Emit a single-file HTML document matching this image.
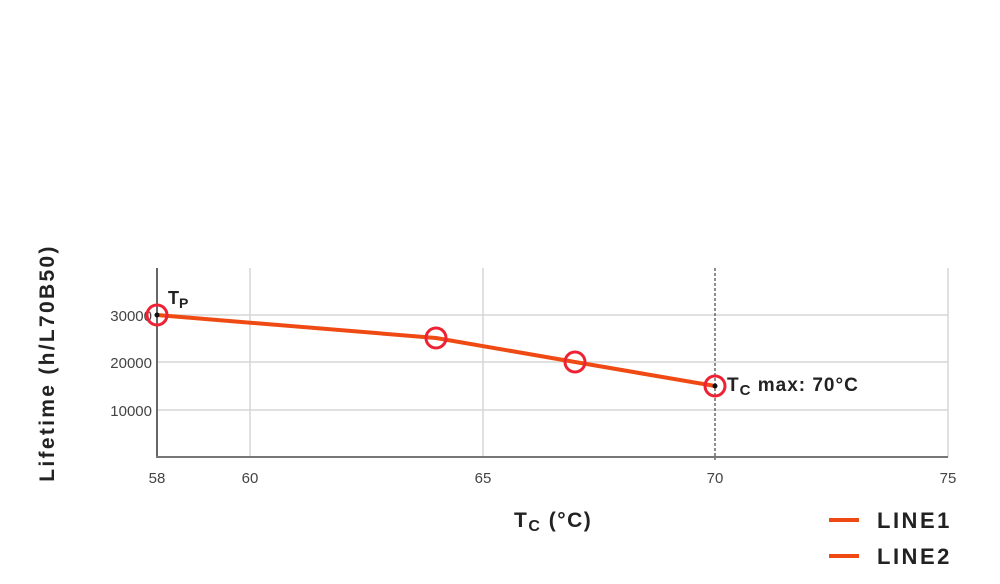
<!DOCTYPE html>
<html><head><style>
body{margin:0;background:#fff;}
svg{display:block;font-family:"Liberation Sans",Arial,sans-serif;}
</style></head><body>
<svg width="1000" height="584" viewBox="0 0 1000 584">
<g stroke="#d6d6d6" stroke-width="1.5">
<line x1="157" y1="315" x2="948" y2="315"/>
<line x1="157" y1="362" x2="948" y2="362"/>
<line x1="157" y1="410" x2="948" y2="410"/>
<line x1="250" y1="268" x2="250" y2="457"/>
<line x1="483" y1="268" x2="483" y2="457"/>
<line x1="948" y1="268" x2="948" y2="457"/>
</g>
<line x1="715" y1="268" x2="715" y2="460" stroke="#444" stroke-width="1.2" stroke-dasharray="3,2"/>
<line x1="157" y1="268" x2="157" y2="458" stroke="#666" stroke-width="2"/>
<line x1="156" y1="457" x2="948" y2="457" stroke="#777" stroke-width="2"/>
<g font-size="15" fill="#444" text-anchor="end">
<text x="152" y="321">30000</text>
<text x="152" y="368">20000</text>
<text x="152" y="416">10000</text>
</g>
<g font-size="15" fill="#444" text-anchor="middle">
<text x="157" y="483">58</text>
<text x="250" y="483">60</text>
<text x="483" y="483">65</text>
<text x="715" y="483">70</text>
<text x="948" y="483">75</text>
</g>
<polyline points="157,315 436,338 575,362 715,386" fill="none" stroke="#f04a14" stroke-width="4" stroke-linejoin="round"/>
<g fill="none" stroke="#ee2233" stroke-width="3">
<circle cx="157" cy="315" r="10"/><circle cx="436" cy="338" r="10"/>
<circle cx="575" cy="362" r="10"/><circle cx="715" cy="386" r="10"/>
</g>
<circle cx="157" cy="315" r="2.5" fill="#111"/><circle cx="715" cy="386" r="2.5" fill="#111"/>
<g font-weight="bold" fill="#222">
<text x="168" y="304" font-size="18">T<tspan font-size="14" dy="4">P</tspan></text>
<text x="727" y="391" font-size="19" letter-spacing="1">T<tspan font-size="15" dy="4">C</tspan><tspan dy="-4"> max: 70°C</tspan></text>
<text x="514" y="527" font-size="21" letter-spacing="1.5">T<tspan font-size="16" dy="4">C</tspan><tspan dy="-4"> (°C)</tspan></text>
<text x="877" y="528" font-size="22" letter-spacing="2.5">LINE1</text>
<text x="877" y="564" font-size="22" letter-spacing="2.5">LINE2</text>
<text transform="translate(54,363) rotate(-90)" font-size="21" letter-spacing="2.3" text-anchor="middle">Lifetime (h/L70B50)</text>
</g>
<line x1="829" y1="520" x2="859" y2="520" stroke="#f04a14" stroke-width="4"/>
<line x1="829" y1="556" x2="859" y2="556" stroke="#f04a14" stroke-width="4"/>
</svg>
</body></html>
